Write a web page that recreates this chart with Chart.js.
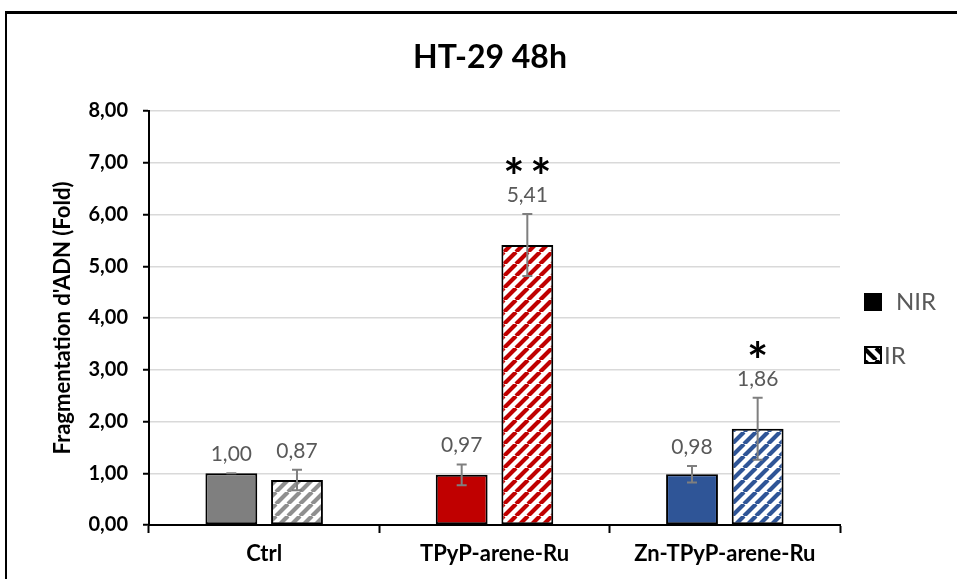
<!DOCTYPE html>
<html>
<head>
<meta charset="utf-8">
<script src="https://cdn.jsdelivr.net/npm/chart.js@4.4.0/dist/chart.umd.min.js"></script>
<style>
  html, body { margin: 0; padding: 0; background: #fff; overflow: hidden; }
  #wrap { position: relative; width: 957px; height: 579px; }
  #frame { position: absolute; left: 5px; top: 11px; width: 980px; height: 600px;
           border-left: 2px solid #000; border-top: 3px solid #000; pointer-events: none; }
</style>
</head>
<body>
<div id="wrap">
  <canvas id="chart" width="957" height="579"></canvas>
  <div id="frame"></div>
</div>
<script>
const chartTitle = "HT-29 48h";
const categories = ["Ctrl", "TPyP-arene-Ru", "Zn-TPyP-arene-Ru"];
const nirValues = [1.00, 0.97, 0.98];
const irValues = [0.87, 5.41, 1.86];
const nirErrors = [0.00, 0.20, 0.16];
const irErrors = [0.20, 0.60, 0.60];
const nirStars = ["", "", ""];
const irStars = ["", "**", "*"];
const seriesNames = ["NIR", "IR"];
const colors = ["#7f7f7f", "#c00000", "#2f5597"];
const stripeColors = ["#8f8f8f", "#c00000", "#2f5597"];

const fmt = v => v.toFixed(2).replace(".", ",");

// diagonal hatch like Excel's wide upward diagonal
function makePattern(color, down) {
  const s = 12;
  const c = document.createElement("canvas");
  c.width = s; c.height = s;
  const g = c.getContext("2d");
  g.fillStyle = "#fff";
  g.fillRect(0, 0, s, s);
  g.strokeStyle = color;
  g.lineWidth = 4.2;
  g.beginPath();
  for (let k = -1; k <= 1; k++) {
    if (down) { g.moveTo(k * s, 0); g.lineTo(k * s + s, s); }
    else { g.moveTo(k * s, s); g.lineTo(k * s + s, 0); }
  }
  g.stroke();
  return g.createPattern(c, "repeat");
}

const ctx = document.getElementById("chart").getContext("2d");

const titlePlugin = {
  id: "titlePlugin",
  afterDraw(chart) {
    const c = chart.ctx;
    c.save();
    c.font = "bold 32px Lato";
    c.fillStyle = "#000";
    c.textAlign = "center";
    c.textBaseline = "middle";
    c.fillText(chartTitle, 490, 58);
    c.restore();
  }
};

const errorBars = {
  id: "errorBars",
  afterDatasetsDraw(chart) {
    const c = chart.ctx;
    const y = chart.scales.y;
    const errs = [nirErrors, irErrors];
    const stars = [nirStars, irStars];
    chart.data.datasets.forEach((ds, di) => {
      const meta = chart.getDatasetMeta(di);
      meta.data.forEach((bar, i) => {
        const v = ds.data[i];
        const e = errs[di][i];
        const top = y.getPixelForValue(v + e);
        const bot = y.getPixelForValue(v - e);
        const x = bar.x;
        c.save();
        c.strokeStyle = "#7f7f7f";
        c.lineWidth = 2;
        c.beginPath();
        c.moveTo(x, top); c.lineTo(x, bot);
        c.moveTo(x - 5, top); c.lineTo(x + 5, top);
        c.moveTo(x - 5, bot); c.lineTo(x + 5, bot);
        c.stroke();
        // value label
        c.fillStyle = "#595959";
        c.font = "21px Lato";
        c.textAlign = "center";
        c.textBaseline = "alphabetic";
        const base = top - 12;
        c.fillText(fmt(v), x, base);
        const st = stars[di][i];
        if (st) {
          c.fillStyle = "#000";
          c.font = "bold 50px Lato";
          for (let j = 0; j < st.length; j++) {
            c.fillText(st[j], x + (j - (st.length - 1) / 2) * 27, base - 7);
          }
        }
        c.restore();
      });
    });
  }
};

const sideLegend = {
  id: "sideLegend",
  afterDraw(chart) {
    const c = chart.ctx;
    const x0 = chart.chartArea.right + 24;
    c.save();
    c.font = "24px Lato";
    c.textBaseline = "middle";
    c.textAlign = "left";
    // NIR
    c.fillStyle = "#000";
    c.fillRect(x0, 293, 18, 18);
    c.fillStyle = "#595959";
    c.fillText(seriesNames[0], x0 + 32, 302);
    // IR
    c.fillStyle = makePattern("#000", true);
    c.fillRect(x0 + 1, 347, 16, 16);
    c.strokeStyle = "#000";
    c.lineWidth = 2;
    c.strokeRect(x0 + 1, 347, 16, 16);
    c.fillStyle = "#595959";
    c.fillText(seriesNames[1], x0 + 20, 356);
    c.restore();
  }
};

new Chart(ctx, {
  type: "bar",
  data: {
    labels: categories,
    datasets: [
      {
        label: seriesNames[0],
        data: nirValues,
        backgroundColor: colors,
        borderColor: "#000",
        borderWidth: 2,
        borderSkipped: false,
        categoryPercentage: 0.57,
        barPercentage: 0.79
      },
      {
        label: seriesNames[1],
        data: irValues,
        backgroundColor: stripeColors.map(col => makePattern(col, false)),
        borderColor: "#000",
        borderWidth: 2,
        borderSkipped: false,
        categoryPercentage: 0.57,
        barPercentage: 0.79
      }
    ]
  },
  options: {
    responsive: false,
    animation: false,
    layout: { padding: { left: 0, right: 117, top: 111, bottom: 0 } },
    plugins: {
      legend: { display: false },
      tooltip: { enabled: false },
      title: { display: false }
    },
    scales: {
      x: {
        grid: { display: true, drawOnChartArea: false, tickColor: "#000", tickLength: 8, tickWidth: 2 },
        border: { color: "#000", width: 2 },
        ticks: { color: "#000", padding: 8, font: { family: "Lato", size: 22, weight: "bold" } },
        afterFit(s) { s.height = 54; }
      },
      y: {
        min: 0,
        max: 8,
        ticks: {
          stepSize: 1,
          color: "#000",
          padding: 15,
          font: { family: "Lato", size: 20, weight: "bold" },
          callback: v => fmt(v)
        },
        grid: { color: "#d9d9d9", lineWidth: 1.5, tickColor: "#000", tickLength: 6, tickWidth: 2 },
        border: { color: "#000", width: 2 },
        title: {
          display: true,
          text: "Fragmentation d'ADN (Fold)",
          color: "#000",
          font: { family: "Lato", size: 22, weight: "bold" },
          padding: { top: 50, bottom: 0 }
        },
        afterFit(s) { s.width = 149; }
      }
    }
  },
  plugins: [errorBars, sideLegend, titlePlugin]
});
</script>
</body>
</html>
